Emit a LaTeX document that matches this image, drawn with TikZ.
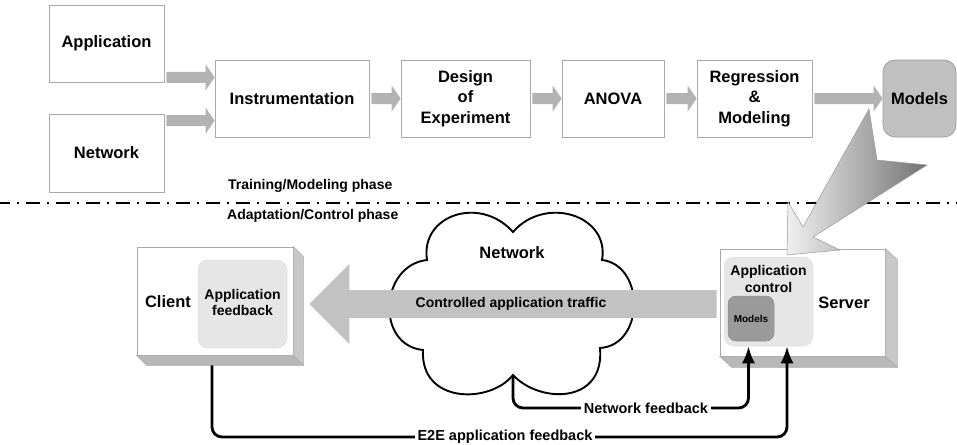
\documentclass[tikz,border=0pt]{standalone}
\usepackage{fontspec}
\setmainfont{Liberation Sans}
\usetikzlibrary{arrows.meta,calc}

\definecolor{flowgray}{HTML}{B3B3B3}
\definecolor{trafgray}{HTML}{C2C2C2}
\definecolor{framegray}{HTML}{AAAAAA}
\definecolor{panelgray}{HTML}{E6E6E6}
\definecolor{modelgray}{HTML}{C0C0C0}
\definecolor{innergray}{HTML}{9A9A9A}
\definecolor{sidegray}{HTML}{C8C8C8}
\definecolor{basegray}{HTML}{B8B8B8}

% horizontal block arrow between two points at the same height
\newcommand\blockarr[2]{%
  \fill[flowgray] ($(#1)+(2,-5.5)$) -- ($(#2)+(-9,-5.5)$) -- ($(#2)+(-9,-13)$)
    -- (#2) -- ($(#2)+(-9,13)$) -- ($(#2)+(-9,5.5)$) -- ($(#1)+(2,5.5)$) -- cycle;}

\begin{document}
\begin{tikzpicture}[x=1pt,y=-1pt,
  every node/.style={font=\bfseries\fontsize{16.5}{20.5}\selectfont,
    align=center, inner sep=0pt},
  small/.style={font=\bfseries\fontsize{14}{17}\selectfont},
  topbox/.style={draw=framegray, line width=0.7pt, fill=white, minimum height=77pt},
  front/.style={draw=framegray, line width=0.7pt, fill=white},
  panel/.style={fill=panelgray, draw=black!12, line width=0.5pt, rounded corners=10pt},
  fb/.style={line width=2.8pt, rounded corners=10pt, -{Latex[length=17pt,width=13pt]}},
  fblabel/.style={font=\bfseries\fontsize{14.5}{17}\selectfont, fill=white,
    inner xsep=2.5pt, inner ysep=1.5pt}]
\useasboundingbox (0,0) rectangle (957,444);

% ---------------- training / modeling pipeline ----------------
\node[topbox, minimum width=115pt] (app) at (106.5,43.5) {Application};
\node[topbox, minimum width=115pt, minimum height=78pt] (net) at (106.5,153) {Network};
\node[topbox, minimum width=154pt] (instr) at (292,98.5) {Instrumentation};
\node[topbox, minimum width=129pt] (doe) at (465.5,98.5) {Design\\of\\Experiment};
\node[topbox, minimum width=102pt] (anova) at (613,98.5) {ANOVA};
\node[topbox, minimum width=115pt] (reg) at (754.5,98.5) {Regression\\\&\\Modeling};
\node[topbox, fill=modelgray, draw=black!40, rounded corners=12pt,
  minimum width=73pt] (models) at (919.5,98.5) {Models};

\coordinate (a1s) at ([yshift=5pt]app.south east);
\coordinate (a1e) at (instr.west |- a1s);
\coordinate (a2s) at ([yshift=-7pt]net.north east);
\coordinate (a2e) at (instr.west |- a2s);
\blockarr{a1s}{a1e}
\blockarr{a2s}{a2e}
\blockarr{instr.east}{doe.west}
\blockarr{doe.east}{anova.west}
\blockarr{anova.east}{reg.west}
\blockarr{reg.east}{models.west}

% ---------------- phase separator ----------------
\draw[line width=1.7pt, dash pattern=on 14pt off 7pt on 2pt off 7pt, dash phase=4pt]
  (0,203) -- (957,203);
\node[small, anchor=west] (trainlbl) at (228,186) {Training/Modeling phase};
\node[small, anchor=west] (adaptlbl) at (227,216) {Adaptation/Control phase};

% ---------------- network cloud ----------------
\draw[line width=1.9pt, fill=white] (427,260)
  .. controls (420,215) and (480,195) .. (513,232)
  .. controls (545,195) and (610,215) .. (602,260)
  .. controls (645,265) and (645,345) .. (600,348)
  .. controls (605,404) and (540,404) .. (513,375)
  .. controls (490,404) and (420,404) .. (423,350)
  .. controls (375,345) and (380,265) .. (427,260) -- cycle;
\coordinate (cusp) at (513,375);
\node (netlbl) at (512,253) {Network};

% ---------------- client ----------------
\node[front, minimum width=156pt, minimum height=108pt] (client) at (215,301) {};
\filldraw[draw=framegray, line width=0.5pt, fill=sidegray]
  (client.north east) -- ($(client.north east)+(10,10)$)
  -- ($(client.south east)+(10,10)$) -- (client.south east) -- cycle;
\filldraw[draw=framegray, line width=0.5pt, fill=basegray]
  (client.south west) -- ($(client.south west)+(10,10)$)
  -- ($(client.south east)+(10,10)$) -- (client.south east) -- cycle;
\node (clientlbl) at (168,302) {Client};
\node[panel, small, minimum width=89pt, minimum height=88pt] (appfb) at (242.5,304)
  {\raisebox{3pt}{\shortstack{Application\\feedback}}};

% ---------------- server ----------------
\node[front, minimum width=165pt, minimum height=107pt] (server) at (802.5,302.5) {};
\filldraw[draw=framegray, line width=0.5pt, fill=sidegray]
  (server.north east) -- ($(server.north east)+(12,11)$)
  -- ($(server.south east)+(12,11)$) -- (server.south east) -- cycle;
\filldraw[draw=framegray, line width=0.5pt, fill=basegray]
  (server.south west) -- ($(server.south west)+(12,11)$)
  -- ($(server.south east)+(12,11)$) -- (server.south east) -- cycle;
\node[panel, minimum width=89pt, minimum height=89pt] (appctl) at (768.5,301.5) {};
\node[small] (appctllbl) at (768.5,279) {Application\\control};
\node[fill=innergray, draw=black!45, line width=0.5pt, rounded corners=8pt,
  minimum width=46pt, minimum height=45pt, font=\bfseries\fontsize{10}{12}\selectfont]
  (smodels) at (751,318.5) {Models};
\node (serverlbl) at (844,303) {Server};

% ---------------- controlled traffic ----------------
\coordinate (ts) at ([xshift=-3pt,yshift=-1.5pt]server.west);
\coordinate (tt) at ([xshift=16pt]client.east);
\coordinate (te) at (tt |- ts);
\fill[trafgray] ($(ts)+(0,-14)$) -- ($(te)+(40,-14)$) -- ($(te)+(40,-40)$) -- (te)
  -- ($(te)+(40,40)$) -- ($(te)+(40,14)$) -- ($(ts)+(0,14)$) -- cycle;
\node[small] (traflbl) at ($(ts)!0.5!(te)+(-2,0)$) {Controlled application traffic};

% ---------------- model hand-over arrow ----------------
\shadedraw[draw=black!40, line width=0.5pt, left color=black!6, right color=black!55]
  (869,109) -- (803,227) -- (788,202) -- (787,255) -- (840,250) -- (813,237)
  -- (927,165) -- (877,160) -- cycle;

% ---------------- feedback loops ----------------
\coordinate (nfmid) at (646,408);
\coordinate (nftip) at ([xshift=-20pt]appctl.south);
\draw[fb] (cusp) |- (nfmid) -| (nftip);
\node[fblabel] (nflbl) at (nfmid) {Network feedback};

\coordinate (e2s) at ([xshift=-3pt,yshift=-10pt]client.south);
\coordinate (e2mid) at (505,437);
\coordinate (e2tip) at ([xshift=18.5pt]appctl.south);
\draw[fb] (e2s) |- (e2mid) -| (e2tip);
\node[fblabel] (e2lbl) at (e2mid) {E2E application feedback};
\end{tikzpicture}
\end{document}
